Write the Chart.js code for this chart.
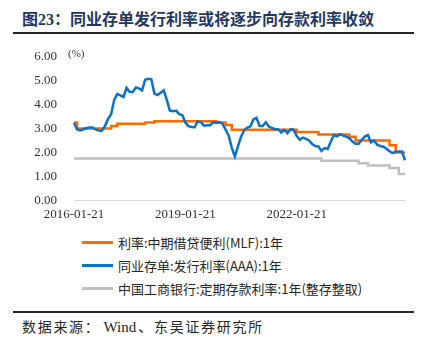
<!DOCTYPE html>
<html lang="zh-CN">
<head>
<meta charset="utf-8">
<script src="https://cdn.jsdelivr.net/npm/chart.js@4.4.0/dist/chart.umd.min.js"></script>
<style>
  html, body { margin: 0; padding: 0; background: #fff; }
  body {
    width: 429px; height: 349px; position: relative; overflow: hidden;
    font-family: "Noto Sans CJK SC", sans-serif;
  }
  .title {
    position: absolute; left: 22px; top: 7px; white-space: nowrap;
    font-size: 16px; font-weight: bold; color: #1f3864; line-height: 22px;
  }
  .title .num { font-family: "Liberation Serif", serif; }
  .rule { position: absolute; left: 13px; width: 401px; height: 2px; background: #262626; }
  #wrap { position: absolute; left: 0; top: 32px; width: 429px; height: 193px; }
  .unit {
    position: absolute; left: 68px; top: 47px;
    font: 11px "Liberation Serif", serif; color: #333;
  }
  .legend { position: absolute; left: 82px; top: 231px; }
  .legend .item {
    display: flex; align-items: center; height: 23px;
    font-size: 13px; color: #262626; white-space: nowrap;
  }
  .legend .swatch { width: 31px; height: 3px; margin-right: 5px; }
  .source {
    position: absolute; left: 22px; top: 316px; white-space: nowrap;
    font-size: 14px; letter-spacing: 1.7px; color: #262626; line-height: 21px;
  }
  .source .latin { font-family: "Liberation Serif", serif; font-size: 15px; letter-spacing: 0; margin: 0 2px 0 3px; }
</style>
</head>
<body>
<div class="title">图<span class="num">23</span>：同业存单发行利率或将逐步向存款利率收敛</div>
<div class="rule" style="top:32px"></div>

<div id="wrap"><canvas id="chart" width="429" height="193"></canvas></div>
<div class="unit">(%)</div>

<div class="legend" id="legend"></div>

<div class="rule" style="top:311px"></div>
<div class="source">数据来源：<span class="latin">Wind</span>、东吴证券研究所</div>

<script>
// monthly observations, 2016-01 .. 2024-12
const months = [];
for (let y = 2016; y <= 2024; y++) {
  for (let m = 1; m <= 12; m++) months.push(`${y}-${String(m).padStart(2, "0")}-21`);
}
const tickDates = ["2016-01-21", "2019-01-21", "2022-01-21"];

const seriesNames = [
  "利率:中期借贷便利(MLF):1年",
  "同业存单:发行利率(AAA):1年",
  "中国工商银行:定期存款利率:1年(整存整取)",
];
const seriesColors = ["#ff6a00", "#0b72c9", "#bfbfbf"];

// MLF 1Y
const mlfRate = [
  3.25, 3.00, 3.00, 3.00, 3.00, 3.00, 3.00, 3.00, 3.00, 3.00, 3.00, 3.00,
  3.10, 3.10, 3.20, 3.20, 3.20, 3.20, 3.20, 3.20, 3.20, 3.20, 3.20, 3.25,
  3.25, 3.25, 3.30, 3.30, 3.30, 3.30, 3.30, 3.30, 3.30, 3.30, 3.30, 3.30,
  3.30, 3.30, 3.30, 3.30, 3.30, 3.30, 3.30, 3.30, 3.30, 3.30, 3.25, 3.25,
  3.25, 3.15, 3.15, 2.95, 2.95, 2.95, 2.95, 2.95, 2.95, 2.95, 2.95, 2.95,
  2.95, 2.95, 2.95, 2.95, 2.95, 2.95, 2.95, 2.95, 2.95, 2.95, 2.95, 2.95,
  2.85, 2.85, 2.85, 2.85, 2.85, 2.85, 2.85, 2.75, 2.75, 2.75, 2.75, 2.75,
  2.75, 2.75, 2.75, 2.75, 2.75, 2.65, 2.65, 2.50, 2.50, 2.50, 2.50, 2.50,
  2.50, 2.50, 2.50, 2.50, 2.50, 2.50, 2.30, 2.30, 2.00, 2.00, 2.00, 2.00,
];

// NCD issue rate, AAA, 1Y
const ncdRate = [
  3.24, 2.96, 2.92, 2.97, 3.01, 3.04, 3.04, 2.96, 2.92, 2.91, 3.10, 3.40,
  3.60, 4.20, 4.45, 4.39, 4.32, 4.70, 4.53, 4.53, 4.72, 4.68, 4.60, 5.04,
  5.08, 5.06, 4.46, 4.40, 4.50, 4.60, 4.20, 3.75, 3.72, 3.75, 3.60, 3.56,
  3.25, 3.10, 3.06, 3.05, 3.30, 3.27, 3.12, 3.14, 3.14, 3.26, 3.24, 3.26,
  3.20, 2.95, 2.70, 2.20, 1.83, 2.25, 2.66, 2.93, 3.04, 3.08, 3.38, 3.45,
  3.10, 3.10, 3.26, 3.08, 3.02, 2.97, 2.97, 2.83, 2.94, 2.80, 2.97, 2.95,
  2.68, 2.53, 2.62, 2.57, 2.50, 2.35, 2.27, 2.25, 2.06, 2.18, 2.14, 2.45,
  2.72, 2.67, 2.76, 2.70, 2.66, 2.60, 2.45, 2.36, 2.36, 2.53, 2.66, 2.73,
  2.42, 2.50, 2.32, 2.27, 2.24, 2.15, 2.05, 1.97, 2.03, 2.04, 2.04, 1.67,
];

// ICBC 1Y time deposit
const depositRate = [
  1.75, 1.75, 1.75, 1.75, 1.75, 1.75, 1.75, 1.75, 1.75, 1.75, 1.75, 1.75,
  1.75, 1.75, 1.75, 1.75, 1.75, 1.75, 1.75, 1.75, 1.75, 1.75, 1.75, 1.75,
  1.75, 1.75, 1.75, 1.75, 1.75, 1.75, 1.75, 1.75, 1.75, 1.75, 1.75, 1.75,
  1.75, 1.75, 1.75, 1.75, 1.75, 1.75, 1.75, 1.75, 1.75, 1.75, 1.75, 1.75,
  1.75, 1.75, 1.75, 1.75, 1.75, 1.75, 1.75, 1.75, 1.75, 1.75, 1.75, 1.75,
  1.75, 1.75, 1.75, 1.75, 1.75, 1.75, 1.75, 1.75, 1.75, 1.75, 1.75, 1.75,
  1.75, 1.75, 1.75, 1.75, 1.75, 1.75, 1.75, 1.75, 1.65, 1.65, 1.65, 1.65,
  1.65, 1.65, 1.65, 1.65, 1.65, 1.65, 1.65, 1.65, 1.55, 1.55, 1.55, 1.45,
  1.45, 1.45, 1.45, 1.45, 1.45, 1.45, 1.35, 1.35, 1.35, 1.10, 1.10, 1.10,
];

const serif = '"Liberation Serif", "DejaVu Serif", serif';

function lineDataset(i, data, extra) {
  return {
    label: seriesNames[i],
    data,
    borderColor: seriesColors[i],
    backgroundColor: seriesColors[i],
    borderWidth: 2.5,
    pointRadius: 0,
    fill: false,
    ...extra,
  };
}

new Chart(document.getElementById("chart"), {
  type: "line",
  data: {
    labels: months,
    datasets: [
      lineDataset(0, mlfRate, { stepped: "before", order: 1 }),
      lineDataset(1, ncdRate, { tension: 0, order: 0 }),
      lineDataset(2, depositRate, { stepped: "before", order: 2 }),
    ],
  },
  options: {
    responsive: false,
    animation: false,
    // y tick padding (17) + half label height sets the top/bottom inset
    layout: { padding: { top: 0, right: 24, bottom: 5, left: 0 } },
    plugins: { legend: { display: false }, tooltip: { enabled: false } },
    scales: {
      x: {
        type: "category",
        offset: false,
        grid: { display: false, drawTicks: false },
        border: { display: true, color: "#d9d9d9", width: 1 },
        ticks: {
          autoSkip: false, maxRotation: 0, minRotation: 0, padding: 7,
          color: "#333", font: { family: serif, size: 13 },
        },
        afterBuildTicks: (scale) => {
          scale.ticks = scale.ticks.filter((t) => tickDates.includes(months[t.value]));
        },
        afterFit: (scale) => { scale.height = 19; },
      },
      y: {
        min: 0,
        max: 6,
        grid: { display: false, drawTicks: false },
        border: { display: false },
        ticks: {
          stepSize: 1, padding: 17, color: "#333",
          font: { family: serif, size: 13 },
          callback: (v) => Number(v).toFixed(2),
        },
        afterFit: (scale) => { scale.width = 74; },
      },
    },
  },
});

// legend list under the plot
const legend = document.getElementById("legend");
seriesNames.forEach((name, i) => {
  const item = document.createElement("div");
  item.className = "item";
  item.innerHTML = `<span class="swatch" style="background:${seriesColors[i]}"></span><span>${name}</span>`;
  legend.appendChild(item);
});
</script>
</body>
</html>
